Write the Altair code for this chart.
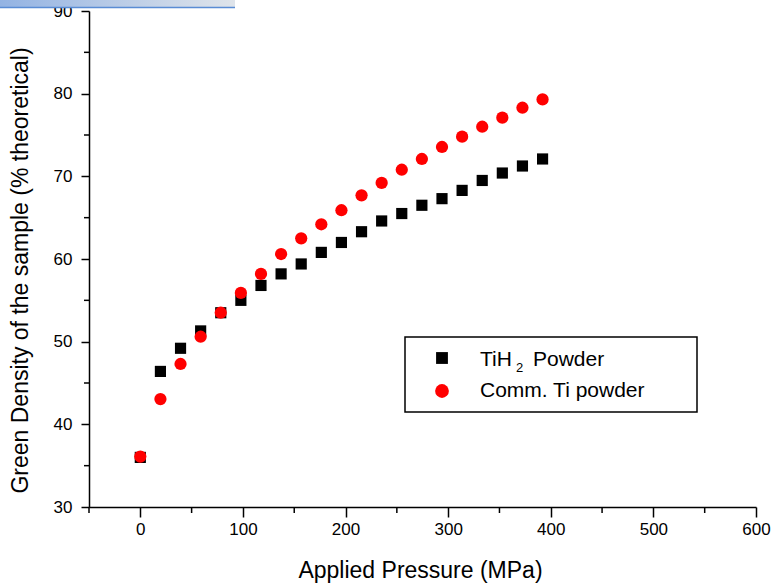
import altair as alt
import pandas as pd

# ---- data ----
pressure = [0, 19.6, 39.2, 58.8, 78.4, 98, 117.6, 137.2, 156.8, 176.4, 196,
            215.6, 235.2, 254.8, 274.4, 294, 313.6, 333.2, 352.8, 372.4, 392]
tih2 = [36.0, 46.4, 49.2, 51.3, 53.5, 55.0, 56.8, 58.2, 59.4, 60.8, 62.0,
        63.3, 64.6, 65.5, 66.5, 67.3, 68.3, 69.5, 70.4, 71.25, 72.1]
comm_ti = [36.1, 43.05, 47.3, 50.6, 53.5, 55.9, 58.2, 60.6, 62.5, 64.2, 65.9,
           67.7, 69.2, 70.8, 72.1, 73.55, 74.8, 76.0, 77.1, 78.3, 79.3]

x_major = [0, 100, 200, 300, 400, 500, 600]
x_minor = [-50, 50, 150, 250, 350, 450, 550]
y_major = [30, 40, 50, 60, 70, 80, 90]
y_minor = [35, 45, 55, 65, 75, 85]

series_names = ["TiH2 Powder", "Comm. Ti powder"]

W, H = 667, 496
FONT = "Liberation Sans"

df_sq = pd.DataFrame({"pressure": pressure, "density": tih2, "series": series_names[0]})
df_ci = pd.DataFrame({"pressure": pressure, "density": comm_ti, "series": series_names[1]})
df_xminor = pd.DataFrame({"pressure": x_minor})
df_yminor = pd.DataFrame({"density": y_minor})
one = pd.DataFrame({"k": [0]})

xs = alt.Scale(domain=[-50, 600], nice=False, zero=False)
ys = alt.Scale(domain=[30, 90], nice=False, zero=False)

x_enc = alt.X("pressure:Q", scale=xs, axis=alt.Axis(
    values=x_major, title="Applied Pressure (MPa)", tickSize=10, labelPadding=4,
    titleY=70, titleX=331, titleBaseline="alphabetic",
    titleAlign="center", labelFlush=False))
y_enc = alt.Y("density:Q", scale=ys, axis=alt.Axis(
    values=y_major, title="Green Density of the sample (% theoretical)",
    tickSize=8, labelPadding=9, titleAngle=270, titleX=-62, titleY=H / 2 + 11,
    titleBaseline="alphabetic", titleAlign="center", labelFlush=False))

squares = alt.Chart(df_sq).mark_point(
    shape="square", filled=True, size=125, color="black", opacity=1
).encode(x=x_enc, y=y_enc)

circles = alt.Chart(df_ci).mark_point(
    shape="circle", filled=True, size=150, color="#ff0000", opacity=1
).encode(x=x_enc, y=y_enc)

x_minor_ticks = alt.Chart(df_xminor).mark_rule(color="black", strokeWidth=1.5).encode(
    x=x_enc, y=alt.value(H), y2=alt.value(H + 6))
y_minor_ticks = alt.Chart(df_yminor).mark_rule(color="black", strokeWidth=1.5).encode(
    y=y_enc, x=alt.value(-5), x2=alt.value(0))

# ---- legend ----
leg_box = alt.Chart(one).mark_rect(fill="white", stroke="black", strokeWidth=1.5).encode(
    x=alt.value(316), x2=alt.value(608), y=alt.value(326), y2=alt.value(401))
leg_sq = alt.Chart(one).mark_point(shape="square", filled=True, size=140, color="black", opacity=1).encode(
    x=alt.value(353), y=alt.value(347))
leg_ci = alt.Chart(one).mark_point(shape="circle", filled=True, size=190, color="#ff0000", opacity=1).encode(
    x=alt.value(353), y=alt.value(380))
txt_kw = dict(font=FONT, fontSize=21, color="black", align="left", baseline="alphabetic")
leg_t1 = alt.Chart(one).mark_text(text="TiH", **txt_kw).encode(x=alt.value(391), y=alt.value(355))
leg_t1s = alt.Chart(one).mark_text(text="2", font=FONT, fontSize=13, color="black",
                                   align="left", baseline="alphabetic").encode(
    x=alt.value(427), y=alt.value(361))
leg_t1b = alt.Chart(one).mark_text(text="Powder", **txt_kw).encode(x=alt.value(444), y=alt.value(355))
leg_t2 = alt.Chart(one).mark_text(text="Comm. Ti powder", **txt_kw).encode(x=alt.value(391), y=alt.value(386))

# ---- window-chrome strip at the top of the reference ----
strip = alt.Chart(one).mark_rect(
    color=alt.LinearGradient(gradient="linear",
                             stops=[alt.GradientStop(color="#93b3e3", offset=0),
                                    alt.GradientStop(color="#dfe4ea", offset=1)],
                             x1=0, x2=1, y1=0, y2=0)
).encode(x=alt.value(-89), x2=alt.value(146), y=alt.value(-11), y2=alt.value(-3.5))
strip_line = alt.Chart(one).mark_rule(color="#5a8cd4", strokeWidth=1.5).encode(
    x=alt.value(-89), x2=alt.value(146), y=alt.value(-3.5))

chart = alt.layer(
    x_minor_ticks, y_minor_ticks, squares, circles,
    leg_box, leg_sq, leg_ci, leg_t1, leg_t1s, leg_t1b, leg_t2,
    strip, strip_line
).properties(
    width=W, height=H,
    autosize=alt.AutoSizeParams(type="none"),
    padding={"left": 89, "top": 11, "right": 17, "bottom": 76},
    background="white",
).configure_view(stroke=None).configure_axis(
    grid=False, domainColor="black", domainWidth=1.5, tickColor="black", tickWidth=1.5,
    labelFont=FONT, labelFontSize=17, labelColor="black",
    titleFont=FONT, titleFontSize=23, titleColor="black", titleFontWeight="normal",
)

chart.save("out.html", embed_options={"renderer": "svg", "actions": False})
